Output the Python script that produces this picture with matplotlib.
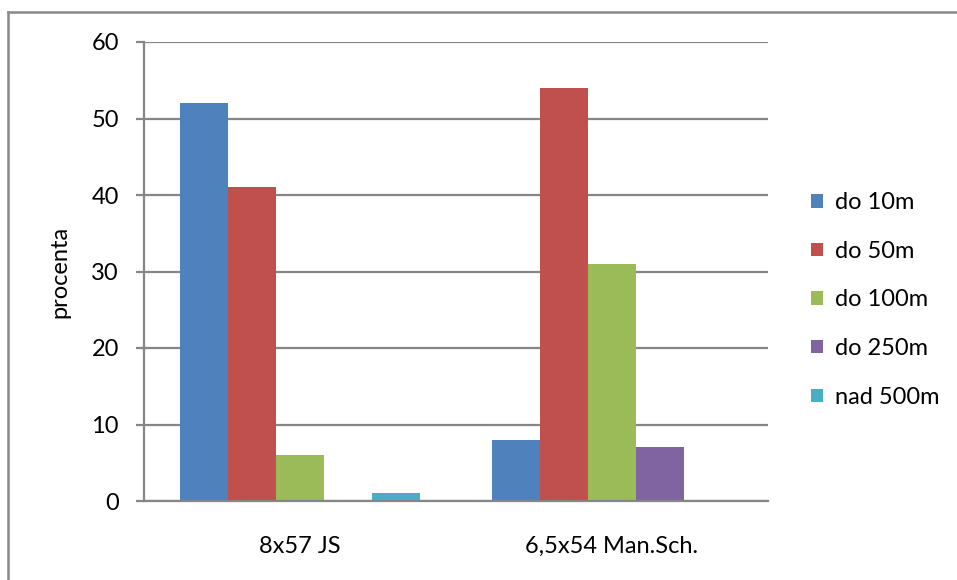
import matplotlib
matplotlib.use("Agg")
import matplotlib.pyplot as plt
import numpy as np
from matplotlib.lines import Line2D

categories = ["8x57 JS", "6,5x54 Man.Sch."]
series_names = ["do 10m", "do 50m", "do 100m", "do 250m", "nad 500m"]
values = {
    "do 10m": [52, 8],
    "do 50m": [41, 54],
    "do 100m": [6, 31],
    "do 250m": [0, 7],
    "nad 500m": [1, 0],
}
colors = ["#4F81BD", "#C0504D", "#9BBB59", "#8064A2", "#4BACC6"]
yticks = [0, 10, 20, 30, 40, 50, 60]

plt.rcParams["font.family"] = ["Lato", "DejaVu Sans"]

W, H = 957, 580
fig = plt.figure(figsize=(W / 100, H / 100), dpi=100)
ax = fig.add_axes([144 / W, 1 - 501 / H, (768 - 144) / W, (501 - 42) / H])

grid_c = "#868686"
fs = 17
n = len(series_names)
bar_w = 1 / (n + 1.5)
x = np.arange(len(categories))
for i, name in enumerate(series_names):
    offs = (i - (n - 1) / 2) * bar_w
    ax.bar(x + offs, values[name], width=bar_w, color=colors[i],
           label=name, linewidth=0, zorder=3)

ax.set_xlim(-0.5, len(categories) - 0.5)
ax.set_ylim(0, 60)
ax.set_yticks(yticks)
ax.set_xticks(x)
ax.set_xticklabels(categories)
ax.yaxis.grid(True, color=grid_c, linewidth=1.6, zorder=0)
ax.set_axisbelow(True)

for s in ["top", "right"]:
    ax.spines[s].set_visible(False)
for s in ["left", "bottom"]:
    ax.spines[s].set_color(grid_c)
    ax.spines[s].set_linewidth(1.6)
    ax.spines[s].set_zorder(4)

ax.tick_params(axis="y", length=6, width=1.6, color=grid_c, pad=12,
               labelsize=fs, labelcolor="black")
ax.tick_params(axis="x", length=0, pad=25, labelsize=fs, labelcolor="black")
ax.set_ylabel("procenta", fontsize=fs, labelpad=15)

leg = ax.legend(loc="center left", bbox_to_anchor=(811 / W, 1 - 300 / H),
                bbox_transform=fig.transFigure, frameon=False, fontsize=fs,
                handlelength=0.5, handleheight=0.5, handletextpad=0.5,
                labelspacing=1.17, borderaxespad=0, borderpad=0)

# outer chart-area border (left and top edges)
fig.add_artist(Line2D([8 / W, 8 / W], [0, 1 - 12 / H], transform=fig.transFigure,
                      color="#888888", linewidth=1.8))
fig.add_artist(Line2D([8 / W, 1], [1 - 12 / H, 1 - 12 / H], transform=fig.transFigure,
                      color="#888888", linewidth=1.8))

fig.savefig("out.png", dpi=100)
